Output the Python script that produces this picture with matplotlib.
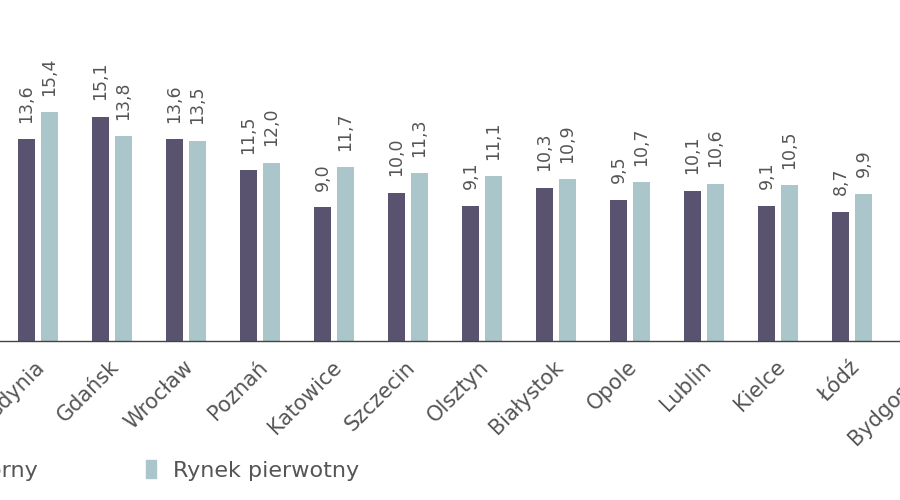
import numpy as np
import matplotlib.pyplot as plt
import matplotlib.transforms as mtransforms
from matplotlib.patches import Patch

plt.rcParams['font.family'] = ['DejaVu Sans']

cities = ['Gdynia', 'Gdańsk', 'Wrocław', 'Poznań', 'Katowice', 'Szczecin', 'Olsztyn',
          'Białystok', 'Opole', 'Lublin', 'Kielce', 'Łódź', 'Bydgoszcz']
# Bydgoszcz lies outside the visible crop, its values are not readable
wtorny = [13.6, 15.1, 13.6, 11.5, 9.0, 10.0, 9.1, 10.3, 9.5, 10.1, 9.1, 8.7, np.nan]
pierwotny = [15.4, 13.8, 13.5, 12.0, 11.7, 11.3, 11.1, 10.9, 10.7, 10.6, 10.5, 9.9, np.nan]

c_dark = '#59536f'
c_light = '#aac6ca'
c_text = '#555555'

# the picture is a crop of a wider chart: 74 px per category, axes run past the right edge
px_per_cat = 74
x_lo, x_hi = -38 / px_per_cat, 12.6
ax_w = (x_hi - x_lo) * px_per_cat / 900

fig = plt.figure(figsize=(9, 5), dpi=100)
ax = fig.add_axes([0, 0.318, ax_w, 0.682])

x = np.arange(len(cities))
w = 17 / px_per_cat
off = 11.5 / px_per_cat
ax.bar(x - off, wtorny, w, color=c_dark)
ax.bar(x + off, pierwotny, w, color=c_light)

for xi, a, b in zip(x, wtorny, pierwotny):
    for xx, v in ((xi - off, a), (xi + off, b)):
        if np.isnan(v):
            continue
        ax.annotate(f'{v:.1f}'.replace('.', ','), (xx, v), xytext=(0, 12),
                    textcoords='offset points', rotation=90, ha='center', va='bottom',
                    fontsize=12.5, color=c_text)

ax.set_xticks(x)
ax.set_xticklabels(cities, rotation=45, ha='right', va='top', rotation_mode='anchor',
                   fontsize=15, color=c_text)
ax.set_xlim(x_lo, x_hi)
ax.set_ylim(0, 341 / 14.84)
ax.tick_params(axis='x', length=0, pad=10)
shift = mtransforms.ScaledTranslation(-3 / 100, -2 / 100, fig.dpi_scale_trans)
for lbl in ax.get_xticklabels():
    lbl.set_transform(lbl.get_transform() + shift)
ax.set_yticks([])
for s in ('top', 'left', 'right'):
    ax.spines[s].set_visible(False)
ax.spines['bottom'].set_color('#444444')
ax.spines['bottom'].set_linewidth(1)

handles = [Patch(color=c_dark, label='Rynek wtórny'),
           Patch(color=c_light, label='Rynek pierwotny')]
fig.legend(handles=handles, loc='center right', bbox_to_anchor=(359 / 900, 0.06),
           ncol=2, frameon=False, fontsize=16, handlelength=0.45, handleheight=0.86,
           handletextpad=0.77, columnspacing=4.86, borderpad=0, borderaxespad=0,
           labelcolor=c_text)

fig.savefig('out.png', dpi=100)
